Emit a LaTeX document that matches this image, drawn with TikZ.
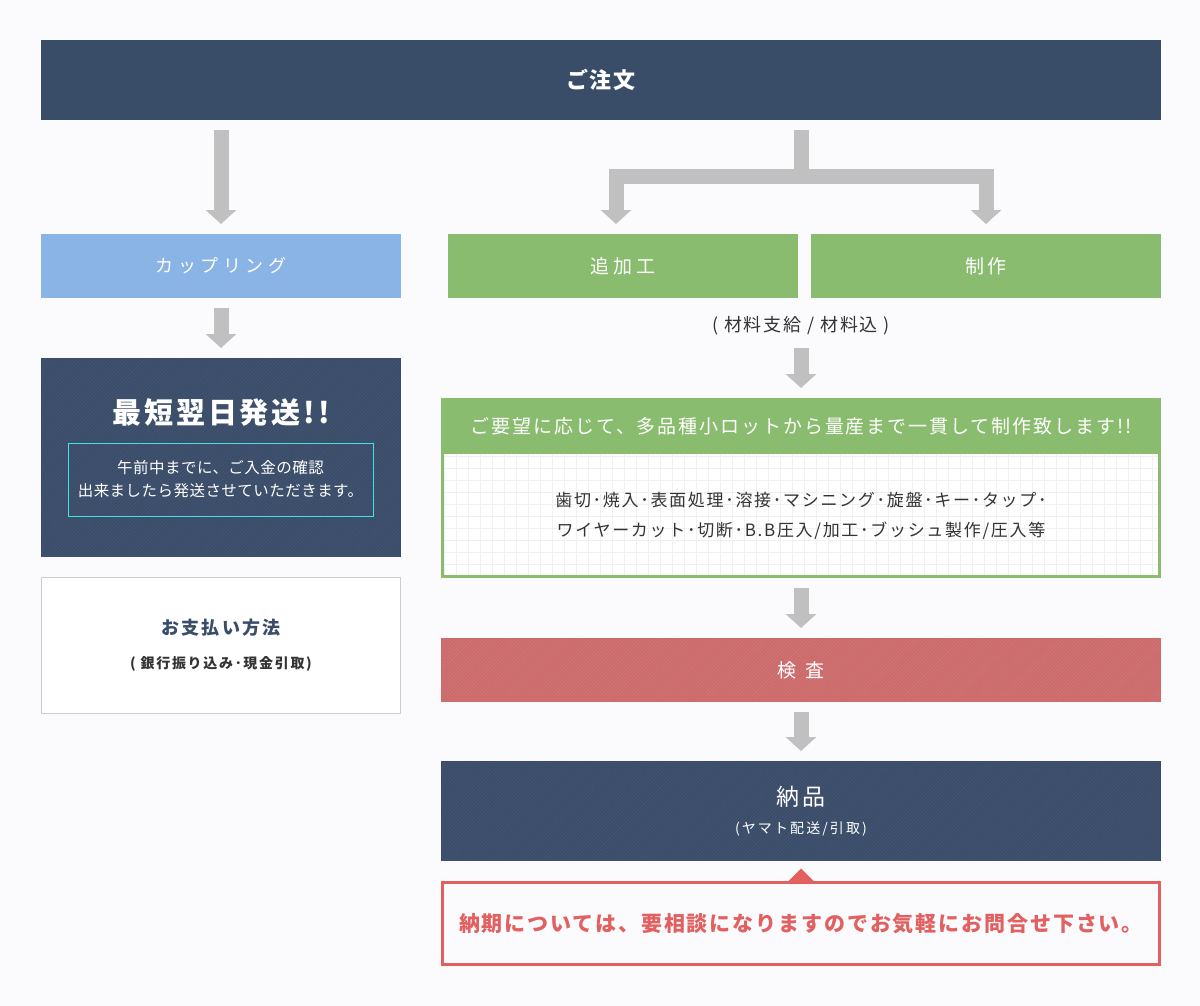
\documentclass[tikz,border=0pt]{standalone}
\usepackage{fontspec}
\setmainfont{Noto Sans CJK JP}
\usepackage{xcolor}
\usetikzlibrary{arrows.meta,positioning,patterns.meta}
\definecolor{pagebg}{RGB}{251,251,254}
\definecolor{navy}{RGB}{58,77,104}
\definecolor{navystripe}{RGB}{67,85,114}
\definecolor{couplingblue}{RGB}{137,180,229}
\definecolor{procgreen}{RGB}{138,188,111}
\definecolor{check}{RGB}{203,106,106}
\definecolor{checkstripe}{RGB}{211,117,117}
\definecolor{notered}{RGB}{226,96,96}
\definecolor{arrowgray}{RGB}{192,192,192}
\definecolor{framecyan}{RGB}{64,226,232}
\definecolor{paygray}{RGB}{204,204,208}
\definecolor{textdark}{RGB}{51,51,51}
\newcommand{\jpsize}[3]{\fontsize{#1}{#2}\selectfont\addfontfeature{LetterSpace=#3}}

\begin{document}
\begin{tikzpicture}[
    x=1pt, y=-1pt,
    flowbox/.style={rectangle, inner sep=0pt, outer sep=0pt, align=center, text=white, fill=#1},
    texbox/.style={flowbox=#1, path picture={\fill[pattern={Lines[angle=45,distance=2.5pt,line width=0.8pt]}, pattern color=#1stripe] ([shift={(1,1)}]path picture bounding box.north west) rectangle ([shift={(-1,-1)}]path picture bounding box.south east);}},
    label/.style={inner sep=0pt, align=center, text=#1},
    flowarrow/.style={draw=arrowgray, line width=15pt, -{Triangle[width=30pt 0,length=14pt 0]}, shorten <=10pt, shorten >=10pt},
    gridline/.style={draw=black!6, line width=0.6pt, step=12pt},
]
    \fill[pagebg] (0,0) rectangle (1200,1006);
    \useasboundingbox (0,0) rectangle (1200,1006);

    % Order
    \node[flowbox=navy, minimum width=1120pt, minimum height=80pt, font=\bfseries\jpsize{22}{26}{8}] (order) at (601,80) {ご注文};

    % Left column
    \node[flowbox=couplingblue, minimum width=360pt, minimum height=64pt, font=\jpsize{18}{22}{25}] (coupling) at (221,266) {カップリング};
    \node[texbox=navy, minimum width=360pt, minimum height=199pt, below=60pt of coupling] (quick) {};
    \node[label=white, font=\bfseries\jpsize{29}{33}{10}] (quicktitle) at (221,413) {最短翌日発送!!};
    \node[draw=framecyan, line width=1pt, label=white, minimum width=305pt, minimum height=73pt, font=\jpsize{15.5}{23}{3}] (quicknote) at (220.5,479.5) {午前中までに、ご入金の確認\\出来ましたら発送させていただきます。};
    \node[flowbox=white, draw=paygray, line width=1pt, minimum width=359pt, minimum height=136pt, below=20pt of quick] (pay) {};
    \node[label=navy, font=\bfseries\jpsize{18}{22}{12}] (paytitle) at (221,628) {お支払い方法};
    \node[label=textdark, font=\bfseries\jpsize{14}{18}{12}] (paysub) at (221,664) {( 銀行振り込み･現金引取)};

    % Right column
    \node[flowbox=procgreen, minimum width=350pt, minimum height=64pt, font=\jpsize{19}{23}{20}] (addproc) at (623,266) {追加工};
    \node[flowbox=procgreen, minimum width=350pt, minimum height=64pt, font=\jpsize{19}{23}{20}] (make) at (986,266) {制作};
    \node[label=textdark, minimum height=24pt, font=\jpsize{18}{22}{10}] (material) at (801,326) {( 材料支給 / 材料込 )};

    \node[flowbox=procgreen, minimum width=720pt, minimum height=56pt, font=\jpsize{19}{23}{10}] (servicehead) at (801,426) {ご要望に応じて、多品種小ロットから量産まで一貫して制作致します!!};
    \node[flowbox=white, minimum width=720pt, minimum height=124pt, below=0pt of servicehead] (servicebody) {};
    \draw[gridline] (servicebody.north west) grid (servicebody.south east);
    \node[label=textdark, font=\jpsize{17}{30}{10}] (servicetext) at (servicebody) {歯切･焼入･表面処理･溶接･マシニング･旋盤･キー･タップ･\\ワイヤーカット･切断･B.B圧入/加工･ブッシュ製作/圧入等};
    \draw[procgreen, line width=3pt] ([shift={(1.5,1.5)}]servicehead.north west) rectangle ([shift={(-1.5,-1.5)}]servicebody.south east);

    \node[texbox=check, minimum width=720pt, minimum height=64pt, below=60pt of servicebody] (inspect) {};
    \node[label=white, font=\jpsize{19}{23}{50}] (inspecttext) at (inspect) {検査};
    \node[texbox=navy, minimum width=720pt, minimum height=100pt, below=59pt of inspect] (deliver) {};
    \node[label=white, font=\jpsize{23}{27}{10}] (delivertitle) at (801,797) {納品};
    \node[label=white, font=\jpsize{14}{18}{15}] (deliversub) at (801,829) {(ヤマト配送/引取)};

    % Note
    \node[flowbox=pagebg, draw=notered, line width=3pt, minimum width=717pt, minimum height=82pt, text=notered, font=\bfseries\jpsize{21}{25}{9}] (note) at (801,923.5) {納期については、要相談になりますのでお気軽にお問合せ下さい。};
    \fill[notered] ([xshift=-14pt]note.north) -- ++(14,-14) -- ++(14,14) -- cycle;

    % Arrows
    \draw[flowarrow] (order.south -| coupling.north) -- (coupling.north);
    \draw[flowarrow] (coupling.south) -- (quick.north);
    \draw[flowarrow, -, shorten >=0pt] (order.south -| material) -- ++(0,57) coordinate (split);
    \draw[flowarrow, shorten <=0pt] (split) -| ([xshift=-7pt]addproc.north);
    \draw[flowarrow, shorten <=0pt] (split) -| (make.north);
    \draw[flowarrow] (material.south) -- (servicehead.north);
    \draw[flowarrow] (servicebody.south) -- (inspect.north);
    \draw[flowarrow] (inspect.south) -- (deliver.north);
\end{tikzpicture}
\end{document}
